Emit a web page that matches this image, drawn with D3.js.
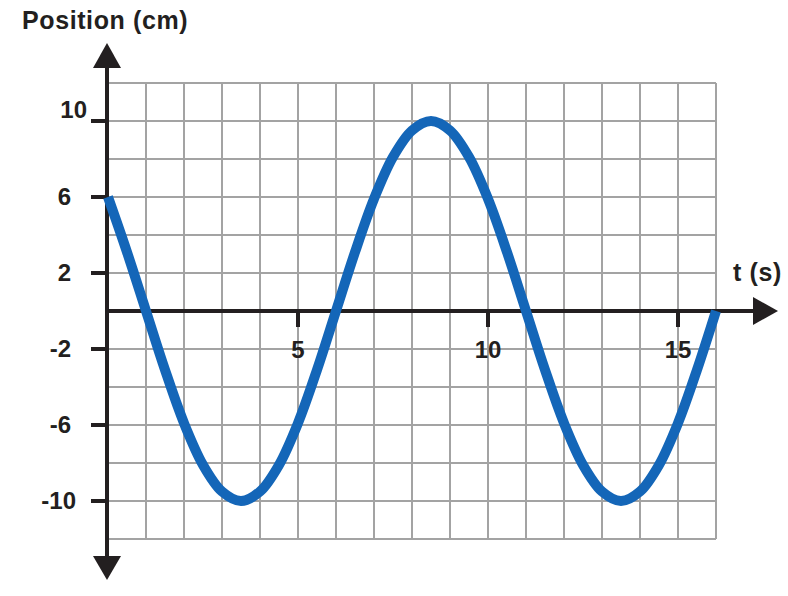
<!DOCTYPE html>
<html><head><meta charset="utf-8">
<script src="https://cdn.jsdelivr.net/npm/d3@7"></script>
<style>html,body{margin:0;padding:0;background:#fff;}</style>
</head><body>
<svg id="chart" width="788" height="596"></svg>
<script>
// Data
const times = [0,0.5,1,1.5,2,2.5,3,3.5,4,4.5,5,5.5,6,6.5,7,7.5,8,8.5,9,9.5,10,10.5,11,11.5,12,12.5,13,13.5,14,14.5,15,15.5,16];
const positions = [6,3.1,0,-3.1,-5.9,-8.1,-9.5,-10,-9.5,-8.1,-5.9,-3.1,0,3.1,5.9,8.1,9.5,10,9.5,8.1,5.9,3.1,0,-3.1,-5.9,-8.1,-9.5,-10,-9.5,-8.1,-5.9,-3.1,0];
const xTickValues = [5,10,15];
const yTickValues = [10,6,2,-2,-6,-10];
const xGridValues = d3.range(0,17,1);
const yGridValues = d3.range(-12,13,2);
const xTitle = "t (s)";
const yTitle = "Position (cm)";

const svg = d3.select("#chart");
const x = d3.scaleLinear().domain([0,16]).range([108,716]);
const y = d3.scaleLinear().domain([-12,12]).range([539,83]);
const axisColor = "#231f20";
const font = "'Liberation Sans', Arial, sans-serif";

// grid
const g = svg.append("g");
g.selectAll("line.v").data(xGridValues.filter(d=>d>0)).join("line")
  .attr("x1",d=>x(d)).attr("x2",d=>x(d)).attr("y1",y(12)).attr("y2",y(-12))
  .attr("stroke","#a3a3a3").attr("stroke-width",2);
g.selectAll("line.h").data(yGridValues).join("line")
  .attr("x1",x(0)).attr("x2",x(16)).attr("y1",d=>y(d)).attr("y2",d=>y(d))
  .attr("stroke","#a3a3a3").attr("stroke-width",2);

// axes
const x0 = x(0) - 1, y0 = y(0);
svg.append("line").attr("x1",x0).attr("x2",x0).attr("y1",64).attr("y2",560)
  .attr("stroke",axisColor).attr("stroke-width",4);
svg.append("line").attr("x1",x0).attr("x2",756).attr("y1",y0).attr("y2",y0)
  .attr("stroke",axisColor).attr("stroke-width",4);
// arrows
svg.append("path").attr("d",`M${x0},43 L${x0+14},68 L${x0-14},68 Z`).attr("fill",axisColor);
svg.append("path").attr("d",`M${x0},580 L${x0+14},556 L${x0-14},556 Z`).attr("fill",axisColor);
svg.append("path").attr("d",`M778,${y0} L753,${y0-14} L753,${y0+14} Z`).attr("fill",axisColor);

// y ticks
svg.selectAll("line.yt").data(yTickValues).join("line")
  .attr("x1",91).attr("x2",x0).attr("y1",d=>y(d)).attr("y2",d=>y(d))
  .attr("stroke",axisColor).attr("stroke-width",4);
svg.selectAll("text.yl").data(yTickValues).join("text")
  .attr("x",d=> d===10 ? 87 : (d===-10 ? 76 : 71))
  .attr("y",d=> y(d) + (d===10 ? -3 : 8))
  .attr("text-anchor","end")
  .attr("font-family",font).attr("font-weight","bold").attr("font-size",24)
  .attr("fill",axisColor)
  .text(d=>d);

// x ticks
svg.selectAll("line.xt").data(xTickValues).join("line")
  .attr("x1",d=>x(d)).attr("x2",d=>x(d)).attr("y1",y0).attr("y2",y0+16)
  .attr("stroke",axisColor).attr("stroke-width",4);
svg.selectAll("text.xl").data(xTickValues).join("text")
  .attr("x",d=>x(d)).attr("y",358)
  .attr("text-anchor","middle")
  .attr("font-family",font).attr("font-weight","bold").attr("font-size",24)
  .attr("fill",axisColor)
  .text(d=>d);

// curve
const line = d3.line().x((d,i)=>x(times[i])).y(d=>y(d)).curve(d3.curveCatmullRom);
svg.append("path").datum(positions).attr("d",line)
  .attr("fill","none").attr("stroke","#1466b8").attr("stroke-width",10)
  .attr("stroke-linecap","butt").attr("stroke-linejoin","round");

// titles
svg.append("text").attr("x",22).attr("y",29)
  .attr("font-family",font).attr("font-weight","bold").attr("font-size",25)
  .attr("letter-spacing",0.6)
  .attr("fill",axisColor).text(yTitle);
svg.append("text").attr("x",733).attr("y",281)
  .attr("font-family",font).attr("font-weight","bold").attr("font-size",25)
  .attr("letter-spacing",0.6)
  .attr("fill",axisColor).text(xTitle);
</script>
</body></html>
